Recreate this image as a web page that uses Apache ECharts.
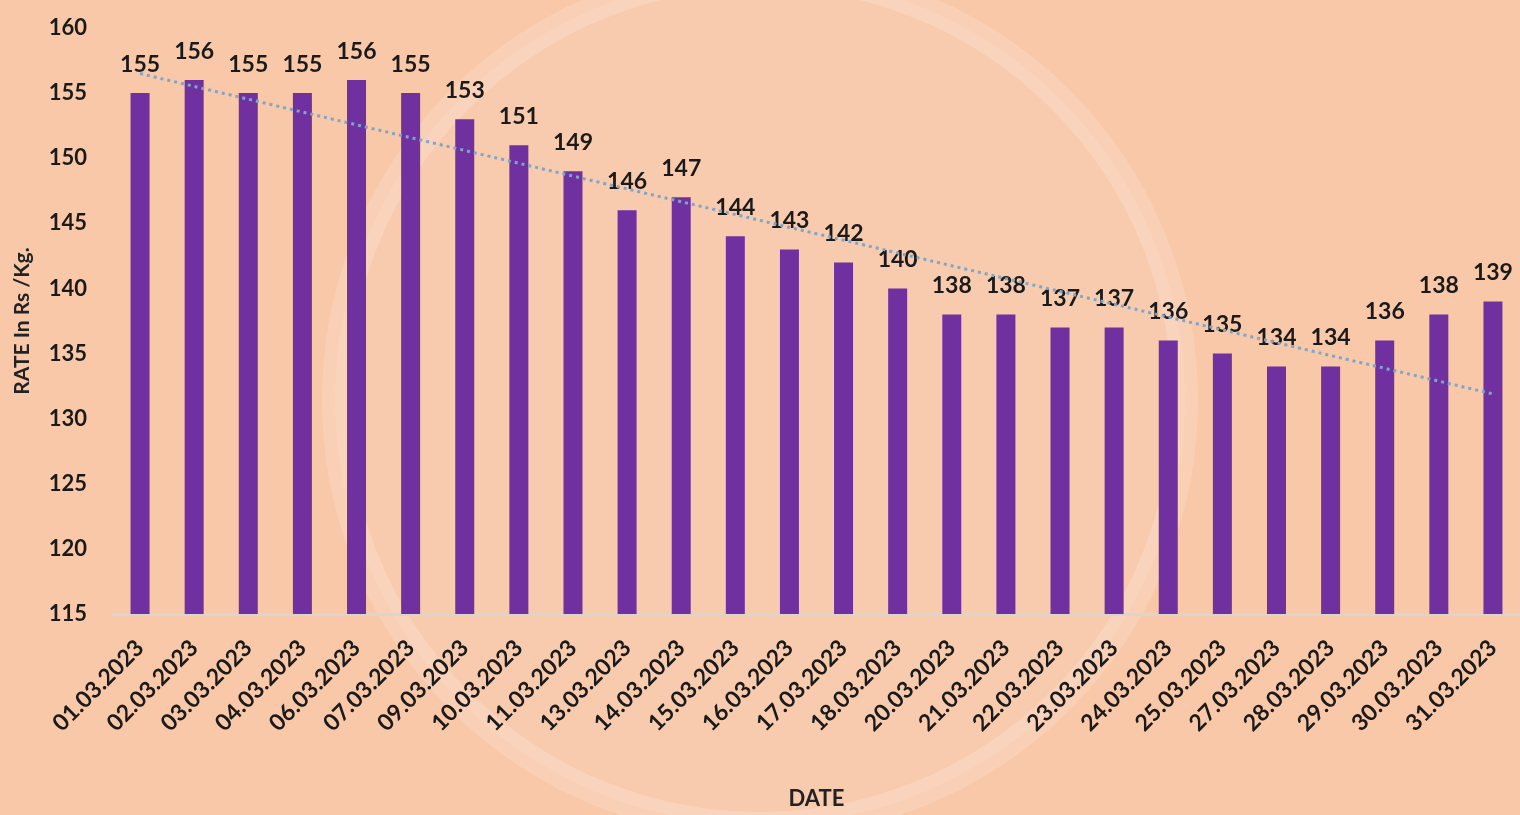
<!DOCTYPE html>
<html>
<head>
<meta charset="utf-8">
<script src="https://cdn.jsdelivr.net/npm/echarts@6/dist/echarts.min.js"></script>
<style>
	html, body { margin: 0; padding: 0; background: #f8c8a9; }
	#chartDiv { width: 1520px; height: 815px; }
</style>
</head>
<body>
<div id="chartDiv"></div>
<script>
const dates = ['01.03.2023', '02.03.2023', '03.03.2023', '04.03.2023', '06.03.2023', '07.03.2023',
	'09.03.2023', '10.03.2023', '11.03.2023', '13.03.2023', '14.03.2023', '15.03.2023', '16.03.2023',
	'17.03.2023', '18.03.2023', '20.03.2023', '21.03.2023', '22.03.2023', '23.03.2023', '24.03.2023',
	'25.03.2023', '27.03.2023', '28.03.2023', '29.03.2023', '30.03.2023', '31.03.2023'];
const rates = [155, 156, 155, 155, 156, 155, 153, 151, 149, 146, 147, 144, 143, 142, 140,
	138, 138, 137, 137, 136, 135, 134, 134, 136, 138, 139];
// linear trend line, start and end values
const trendEnds = [156.5, 131.9];

chartInit = () => {
	let chart = echarts.init(document.getElementById('chartDiv'));
	let font = 'Lato';
	let option = {
		backgroundColor: '#f8c8a9',
		animation: false,
		graphic: [{
			type: 'circle',
			z: -10,
			shape: { cx: 760, cy: 400, r: 425 },
			style: { fill: 'rgba(255,255,255,0.06)', stroke: 'rgba(255,255,255,0.16)', lineWidth: 26 }
		}],
		grid: {
			left: 113,
			top: 28,
			width: 1412,
			bottom: 198
		},
		xAxis: {
			type: 'category',
			data: dates,
			name: 'DATE',
			nameLocation: 'middle',
			nameGap: 174,
			nameTextStyle: { color: '#222', fontSize: 22, fontWeight: 'bold', fontFamily: font },
			axisLine: { lineStyle: { color: '#d9d6d0', width: 3 } },
			axisTick: { show: false },
			axisLabel: {
				interval: 0,
				rotate: 45,
				margin: 30,
				color: '#1a1a1a',
				fontSize: 23,
				fontWeight: 'bold',
				fontFamily: font
			}
		},
		yAxis: {
			type: 'value',
			min: 115,
			max: 160,
			interval: 5,
			name: 'RATE In Rs /Kg.',
			nameLocation: 'middle',
			nameRotate: 90,
			nameGap: 80,
			nameTextStyle: { color: '#222', fontSize: 21, fontWeight: 'bold', fontFamily: font },
			splitLine: { show: false },
			axisLine: { show: false },
			axisTick: { show: false },
			axisLabel: {
				margin: 26,
				color: '#1a1a1a',
				fontSize: 22,
				fontWeight: 'bold',
				fontFamily: font
			}
		},
		series: [{
			name: 'RATE',
			type: 'bar',
			barWidth: 19,
			itemStyle: { color: '#7030a0' },
			label: {
				show: true,
				position: 'top',
				distance: 17,
				color: '#1a1a1a',
				fontSize: 23,
				fontWeight: 'bold',
				fontFamily: font
			},
			data: rates
		}, {
			name: 'Trend',
			type: 'line',
			z: 5,
			symbol: 'none',
			lineStyle: { color: '#7fa6c8', width: 3, type: [3, 4] },
			data: [[dates[0], trendEnds[0]], [dates[dates.length - 1], trendEnds[1]]]
		}]
	};
	chart.setOption(option);
}
chartInit();
</script>
</body>
</html>
